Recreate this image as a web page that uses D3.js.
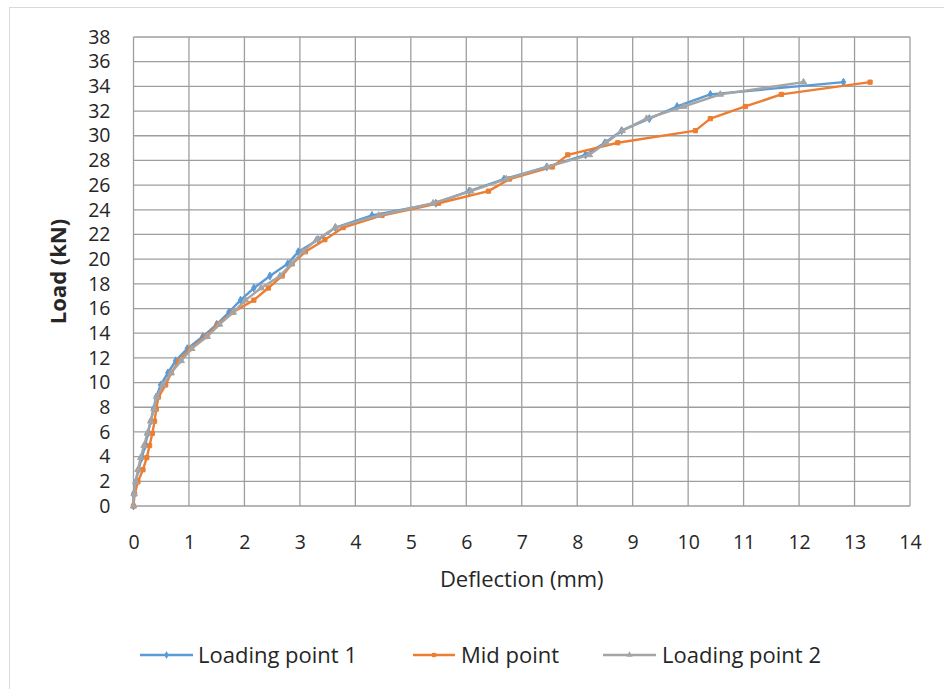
<!DOCTYPE html>
<html>
<head>
<meta charset="utf-8">
<script src="https://cdn.jsdelivr.net/npm/d3@7/dist/d3.min.js"></script>
<style>
  html, body { margin: 0; padding: 0; background: #fff; }
  svg { display: block; }
  text { font-family: "Open Sans", Lato, sans-serif; fill: #262626; }
</style>
</head>
<body>
<svg id="chart" width="944" height="689"></svg>
<script>
// Load steps (kN) shared by all three gauges
const loads = [0, 0.98, 1.96, 2.94, 3.92, 4.90, 5.89, 6.87, 7.85, 8.83, 9.81, 10.79,
  11.77, 12.75, 13.73, 14.72, 15.70, 16.68, 17.66, 18.64, 19.62, 20.60, 21.58, 22.56,
  23.54, 24.53, 25.51, 26.49, 27.47, 28.45, 29.43, 30.41, 31.39, 32.37, 33.35, 34.34];

// Deflection (mm) at each load step
const loadingPoint1 = [0, 0.00, 0.04, 0.09, 0.15, 0.21, 0.26, 0.31, 0.36, 0.41, 0.49, 0.62,
  0.76, 0.97, 1.25, 1.50, 1.72, 1.93, 2.17, 2.46, 2.78, 2.97, 3.33, 3.64,
  4.30, 5.45, 6.05, 6.68, 7.45, 8.15, 8.50, 8.80, 9.30, 9.80, 10.40, 12.80];

const midPoint = [0, 0.02, 0.08, 0.17, 0.24, 0.29, 0.34, 0.38, 0.41, 0.45, 0.58, 0.68,
  0.82, 1.02, 1.30, 1.52, 1.79, 2.17, 2.43, 2.68, 2.86, 3.10, 3.45, 3.78,
  4.48, 5.50, 6.40, 6.78, 7.55, 7.83, 8.73, 10.13, 10.40, 11.03, 11.68, 13.28];

const loadingPoint2 = [0, 0.01, 0.04, 0.08, 0.13, 0.19, 0.25, 0.31, 0.37, 0.42, 0.53, 0.68,
  0.86, 1.05, 1.33, 1.55, 1.80, 2.02, 2.30, 2.64, 2.85, 3.05, 3.30, 3.64,
  4.42, 5.40, 6.08, 6.72, 7.46, 8.22, 8.52, 8.81, 9.25, 9.92, 10.58, 12.08];

const seriesNames = ["Loading point 1", "Mid point", "Loading point 2"];
const seriesColors = ["#5B9BD5", "#ED7D31", "#A5A5A5"];
const xTicks = d3.range(0, 15, 1);
const yTicks = d3.range(0, 40, 2);

const FONT = "'Open Sans', Lato, sans-serif";
const TICK_FONT = "Lato, 'Open Sans', sans-serif";
const svg = d3.select("#chart");

// chart frame
svg.append("rect")
  .attr("x", 9.5).attr("y", 7.5)
  .attr("width", 960).attr("height", 700)
  .attr("fill", "none").attr("stroke", "#d9d9d9").attr("stroke-width", 1);

const x = d3.scaleLinear().domain([0, 14]).range([133.5, 910]);
const y = d3.scaleLinear().domain([0, 38]).range([506, 37]);

// gridlines
const grid = svg.append("g").attr("stroke", "#9e9e9e").attr("stroke-width", 1.3);
grid.selectAll("line.v").data(xTicks).join("line")
  .attr("x1", d => x(d)).attr("x2", d => x(d))
  .attr("y1", y(0)).attr("y2", y(38));
grid.selectAll("line.h").data(yTicks).join("line")
  .attr("x1", x(0)).attr("x2", x(14))
  .attr("y1", d => y(d)).attr("y2", d => y(d));

// axes (labels only, the grid carries the lines)
const yAxis = svg.append("g").attr("transform", `translate(${x(0)},0)`)
  .call(d3.axisLeft(y).tickValues(yTicks).tickSize(0).tickPadding(23));
const xAxis = svg.append("g").attr("transform", `translate(0,${y(0)})`)
  .call(d3.axisBottom(x).tickValues(xTicks).tickSize(0).tickPadding(29));
[yAxis, xAxis].forEach(a => {
  a.select(".domain").remove();
  a.selectAll("text").attr("font-family", TICK_FONT).attr("font-size", 19.5).attr("fill", "#262626");
});

// axis titles
svg.append("text")
  .attr("transform", `translate(66,${(y(0) + y(38)) / 2}) rotate(-90)`)
  .attr("text-anchor", "middle")
  .attr("font-size", 22).attr("font-weight", "bold")
  .text("Load (kN)");
svg.append("text")
  .attr("x", (x(0) + x(14)) / 2).attr("y", 587)
  .attr("text-anchor", "middle")
  .attr("font-size", 22)
  .text("Deflection (mm)");

// series
const deflections = [loadingPoint1, midPoint, loadingPoint2];
const symbols = [d3.symbolDiamond, d3.symbolSquare, d3.symbolTriangle];
const line = d3.line().x(d => x(d[0])).y(d => y(d[1]));

deflections.forEach((defl, i) => {
  const pts = defl.map((d, j) => [d, loads[j]]);
  svg.append("path")
    .datum(pts)
    .attr("d", line)
    .attr("fill", "none")
    .attr("stroke", seriesColors[i])
    .attr("stroke-width", 2.4)
    .attr("stroke-linejoin", "round");
  svg.append("g").selectAll("path").data(pts).join("path")
    .attr("transform", d => `translate(${x(d[0])},${y(d[1])})`)
    .attr("d", d3.symbol().type(symbols[i]).size(18))
    .attr("fill", seriesColors[i])
    .attr("stroke", seriesColors[i]);
});

// legend
const legendItems = [
  { lx: 140, tx: 198 },
  { lx: 413, tx: 461 },
  { lx: 603, tx: 662 }
];
const legendLen = [53, 42, 53];
legendItems.forEach((it, i) => {
  const g = svg.append("g");
  g.append("line")
    .attr("x1", it.lx).attr("x2", it.lx + legendLen[i])
    .attr("y1", 655).attr("y2", 655)
    .attr("stroke", seriesColors[i]).attr("stroke-width", 2.4);
  g.append("path")
    .attr("transform", `translate(${it.lx + legendLen[i] / 2},655)`)
    .attr("d", d3.symbol().type(symbols[i]).size(18))
    .attr("fill", seriesColors[i]);
  g.append("text")
    .attr("x", it.tx).attr("y", 655)
    .attr("dy", "0.35em")
    .attr("font-size", 22)
    .text(seriesNames[i]);
});
</script>
</body>
</html>
